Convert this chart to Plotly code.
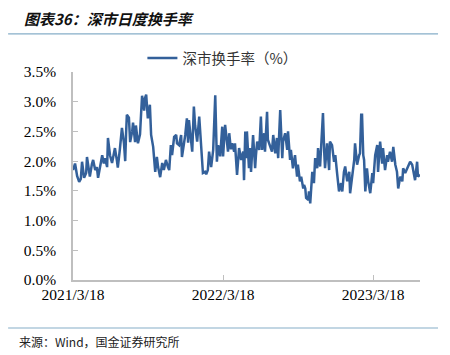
import plotly.graph_objects as go

dates = [
"2021-03-18","2021-03-23","2021-03-28","2021-04-02","2021-04-06","2021-04-09","2021-04-14","2021-04-19","2021-04-21","2021-04-26",
"2021-04-28","2021-05-03","2021-05-06","2021-05-11","2021-05-15","2021-05-18","2021-05-23","2021-05-28","2021-06-01","2021-06-04",
"2021-06-09","2021-06-11","2021-06-16","2021-06-21","2021-06-26","2021-06-28","2021-07-03","2021-07-05","2021-07-10","2021-07-15",
"2021-07-20","2021-07-23","2021-07-25","2021-07-27","2021-08-01","2021-08-04","2021-08-09","2021-08-11","2021-08-16","2021-08-18",
"2021-08-23","2021-08-28","2021-08-30","2021-09-02","2021-09-07","2021-09-09","2021-09-12","2021-09-14","2021-09-16","2021-09-21",
"2021-09-24","2021-09-29","2021-10-04","2021-10-08","2021-10-11","2021-10-16","2021-10-21","2021-10-25","2021-10-30","2021-11-04",
"2021-11-07","2021-11-11","2021-11-14","2021-11-19","2021-11-24","2021-11-26","2021-12-01","2021-12-06","2021-12-08","2021-12-13",
"2021-12-16","2021-12-20","2021-12-23","2021-12-25","2021-12-30","2022-01-02","2022-01-06","2022-01-09","2022-01-14","2022-01-19",
"2022-01-23","2022-01-28","2022-02-02","2022-02-05","2022-02-09","2022-02-12","2022-02-17","2022-02-19","2022-02-22","2022-02-27",
"2022-03-03","2022-03-06","2022-03-11","2022-03-16","2022-03-18","2022-03-23","2022-03-28","2022-03-30","2022-04-02","2022-04-06",
"2022-04-09","2022-04-14","2022-04-16","2022-04-21","2022-04-26","2022-05-01","2022-05-06","2022-05-08","2022-05-11","2022-05-13",
"2022-05-15","2022-05-20","2022-05-23","2022-05-25","2022-05-30","2022-06-04","2022-06-06","2022-06-09","2022-06-14","2022-06-18",
"2022-06-21","2022-06-26","2022-06-28","2022-07-03","2022-07-05","2022-07-10","2022-07-15","2022-07-18","2022-07-23","2022-07-27",
"2022-07-30","2022-08-04","2022-08-09","2022-08-11","2022-08-16","2022-08-21","2022-08-23","2022-08-28","2022-08-30","2022-09-04",
"2022-09-09","2022-09-14","2022-09-16","2022-09-21","2022-09-24","2022-09-29","2022-10-01","2022-10-04","2022-10-06","2022-10-11",
"2022-10-13","2022-10-16","2022-10-21","2022-10-25","2022-10-28","2022-11-02","2022-11-04","2022-11-09","2022-11-11","2022-11-16",
"2022-11-19","2022-11-21","2022-11-26","2022-12-01","2022-12-03","2022-12-08","2022-12-13","2022-12-16","2022-12-20","2022-12-25",
"2022-12-30","2023-01-02","2023-01-06","2023-01-09","2023-01-14","2023-01-19","2023-01-21","2023-01-26","2023-01-31","2023-02-02",
"2023-02-07","2023-02-12","2023-02-14","2023-02-17","2023-02-19","2023-02-22","2023-02-24","2023-02-27","2023-03-03","2023-03-06",
"2023-03-11","2023-03-16","2023-03-18","2023-03-23","2023-03-28","2023-03-30","2023-04-04","2023-04-09","2023-04-11","2023-04-16",
"2023-04-21","2023-04-23","2023-04-28","2023-05-03","2023-05-06","2023-05-11","2023-05-15","2023-05-18","2023-05-23","2023-05-28",
"2023-05-30","2023-06-04","2023-06-09","2023-06-11","2023-06-16","2023-06-21","2023-06-23","2023-06-28","2023-07-03","2023-07-05",
"2023-07-10",
]

turnover = [
1.85,1.96,1.75,1.65,1.70,1.99,1.72,1.80,2.07,1.85,
1.74,1.95,2.02,1.85,1.90,1.72,1.95,2.10,1.96,2.05,
1.90,2.39,2.10,1.97,2.15,2.22,2.00,1.89,2.20,2.56,
2.30,2.00,2.45,2.78,2.73,2.32,2.50,2.65,2.32,2.60,
2.30,2.45,2.72,3.10,2.85,3.06,3.12,2.90,2.72,2.95,
2.44,2.24,1.82,2.07,1.90,1.73,1.97,1.85,2.02,1.90,
1.85,2.27,2.10,2.41,2.44,2.30,2.27,2.44,2.07,2.30,
2.44,2.72,2.31,2.69,2.40,2.16,2.92,2.60,2.33,2.75,
2.33,1.80,1.82,1.78,1.85,2.16,1.90,1.99,2.19,3.11,
1.99,2.27,2.08,2.58,2.08,2.61,2.30,2.16,2.47,2.20,
2.30,2.16,2.30,1.77,2.22,2.02,2.16,1.68,2.50,2.05,
2.50,1.88,2.22,1.82,2.44,1.88,2.10,2.33,2.19,2.75,
2.19,2.47,2.16,2.83,2.36,2.24,2.16,2.44,2.13,2.39,
2.05,2.86,2.05,2.33,2.47,2.19,2.50,2.02,2.19,1.88,
2.10,1.74,1.94,1.66,1.74,1.54,1.60,1.54,1.38,1.35,
1.49,1.29,1.82,1.63,2.05,1.88,2.22,1.91,2.16,2.81,
2.16,1.88,2.30,1.85,2.33,2.27,1.99,2.10,1.82,1.49,
1.63,1.49,1.82,1.91,1.66,1.82,1.46,1.80,2.02,2.30,
1.94,2.10,2.13,2.78,2.78,2.10,2.02,1.49,1.88,1.66,
1.46,1.80,1.63,2.10,2.27,1.82,2.33,1.96,2.22,1.85,
2.10,1.99,2.16,1.99,2.24,1.94,1.82,1.54,1.74,1.66,
1.88,1.80,1.88,1.94,1.99,1.94,1.88,1.68,1.99,1.74,
1.77,
]

series_name = "深市换手率（%）"
x_tick_vals = ["2021-03-18", "2022-03-18", "2023-03-18"]
x_tick_text = ["2021/3/18", "2022/3/18", "2023/3/18"]
y_tick_vals = [0, 0.5, 1.0, 1.5, 2.0, 2.5, 3.0, 3.5]
y_tick_text = ["0.0%", "0.5%", "1.0%", "1.5%", "2.0%", "2.5%", "3.0%", "3.5%"]
title_text = "<b><i>图表36：深市日度换手率</i></b>"
source_text = "来源：Wind，国金证券研究所"

serif = "Liberation Serif"
cjk = "Noto Sans CJK SC"

fig = go.Figure()
fig.add_trace(go.Scatter(
    x=dates, y=turnover, mode="lines", name=series_name,
    line=dict(color="#33609A", width=2.5),
))

# page body has an 8px default margin; size the figure so the plot area lands where the reference has it
fig.update_layout(
    width=442, height=347,
    margin=dict(l=65, r=30, t=64, b=75, pad=0),
    paper_bgcolor="white", plot_bgcolor="white",
    showlegend=True,
    legend=dict(
        orientation="h", x=0.20, y=1.067, xanchor="left", yanchor="middle",
        font=dict(family=cjk, size=14.5, color="#333333"),
        bgcolor="rgba(0,0,0,0)", itemwidth=30,
    ),
    xaxis=dict(
        type="date", range=["2021-03-18", "2023-07-10"],
        tickvals=x_tick_vals, ticktext=x_tick_text,
        ticks="inside", ticklen=5, tickcolor="#bfbfbf", tickwidth=1,
        showline=True, linecolor="#bfbfbf", linewidth=1.5,
        showgrid=False, zeroline=False,
        tickfont=dict(family=serif, size=15.5, color="#000000"),
    ),
    yaxis=dict(
        range=[0, 3.5], tickvals=y_tick_vals, ticktext=y_tick_text,
        ticks="inside", ticklen=5, tickcolor="#bfbfbf", tickwidth=1,
        showline=True, linecolor="#bfbfbf", linewidth=1.5,
        showgrid=False, zeroline=False,
        tickfont=dict(family=serif, size=15.5, color="#000000"),
        ticklabelstandoff=12,
    ),
)

fig.add_annotation(
    text=title_text, xref="paper", yref="paper", x=-0.147, y=1.255,
    xanchor="left", yanchor="middle", showarrow=False,
    font=dict(family=cjk, size=15, color="#111111"),
)
fig.add_annotation(
    text=source_text, xref="paper", yref="paper", x=-0.161, y=-0.298,
    xanchor="left", yanchor="middle", showarrow=False,
    font=dict(family=cjk, size=12, color="#222222"),
)
fig.add_shape(type="line", xref="paper", yref="paper", x0=-0.187, x1=1.052,
              y0=1.183, y1=1.183, line=dict(color="#86AEC8", width=1.2))
fig.add_shape(type="line", xref="paper", yref="paper", x0=-0.187, x1=1.052,
              y0=-0.2308, y1=-0.2308, line=dict(color="#86AEC8", width=1.2))

fig.write_html("out.html")
